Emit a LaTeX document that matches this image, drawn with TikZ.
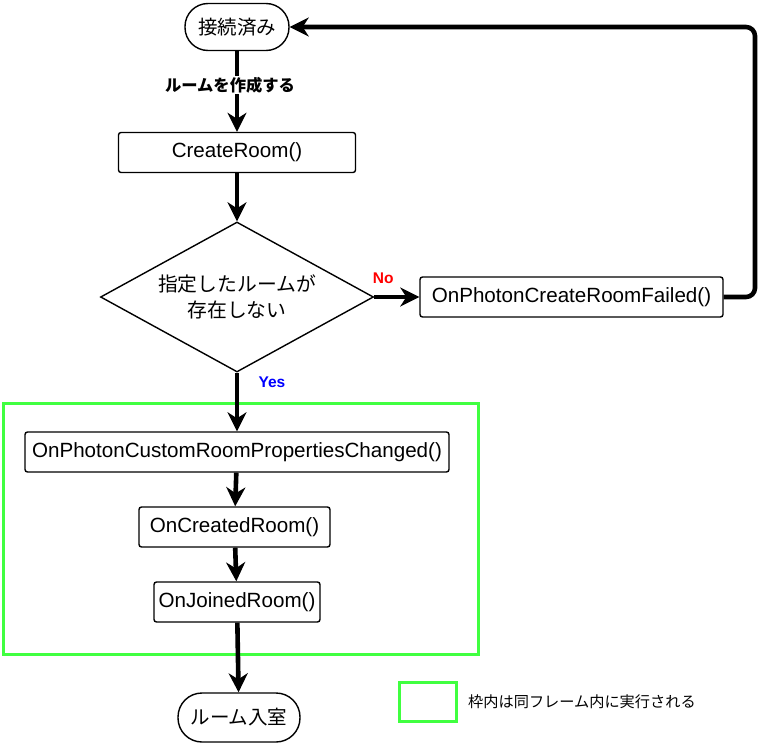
\documentclass[tikz,border=0pt]{standalone}
\usepackage{fontspec}
\setmainfont{Liberation Sans}
\newfontfamily\jp{Noto Sans CJK JP}
\usetikzlibrary{arrows.meta,shapes.geometric}
\definecolor{frameGreen}{RGB}{64,255,64}
\begin{document}
\begin{tikzpicture}[x=1pt,y=-1pt,
  proc/.style={draw=black, line width=1.4pt, rounded corners=2.5pt, fill=white,
    font=\fontsize{20.6}{22}\selectfont, inner sep=0pt},
  term/.style={draw=black, line width=1.4pt, fill=white, inner sep=0pt,
    font=\jp\fontsize{19.5}{22}\selectfont},
  decision/.style={diamond, aspect=1.82, draw=black, line width=1.4pt, fill=white,
    inner sep=0pt, align=center, font=\jp\fontsize{19.8}{26}\selectfont},
  flow/.style={line width=4.6pt, -{Stealth[length=19pt,width=19pt,inset=6pt]}},
  frame/.style={draw=frameGreen, line width=3pt, inner sep=0pt},
  lbl/.style={font=\bfseries\fontsize{15.5}{17}\selectfont, inner sep=1pt},
]
\useasboundingbox (0,0) rectangle (769,744);

% green frame (behind)
\node[frame, minimum width=475pt, minimum height=251pt] (grp) at (240.5,528.5) {};

% nodes
\node[term, rounded corners=23pt, minimum width=104pt, minimum height=47pt] (start) at (237,27) {接続済み};
\node[proc, minimum width=237pt, minimum height=40pt] (create) at (237,152.5) {CreateRoom()};
\node[decision, minimum width=273pt, minimum height=150pt] (dec) at (237,297) {指定したルームが\\存在しない};
\node[proc, minimum width=303pt, minimum height=40pt] (fail) at (571.5,297) {OnPhotonCreateRoomFailed()};
\node[proc, minimum width=424pt, minimum height=40pt] (cust) at (237,452) {OnPhotonCustomRoomPropertiesChanged()};
\node[proc, minimum width=191pt, minimum height=40pt] (created) at (234.5,527) {OnCreatedRoom()};
\node[proc, minimum width=166pt, minimum height=40pt] (joined) at (237,602) {OnJoinedRoom()};
\node[term, rounded corners=24pt, minimum width=122pt, minimum height=49pt] (enter) at (239,717.5) {ルーム入室};

% legend
\node[frame, minimum width=57pt, minimum height=39pt] (leg) at (427.5,701.5) {};
\node[anchor=west, inner sep=0pt, font=\jp\fontsize{15.2}{16}\selectfont] (legtxt) at (468,702) {枠内は同フレーム内に実行される};

% connectors
\coordinate (rt) at (755,0);
\draw[flow] (start) -- node[pos=0.42, xshift=-7pt, fill=white, inner sep=1pt, font=\jp\bfseries\fontsize{16.3}{17}\selectfont] (lblmake) {ルームを作成する} (create);
\draw[flow] (create) -- (dec);
\draw[flow] (dec) -- node[pos=0.2, yshift=19pt, lbl, text=red] (lblno) {No} (fail);
\draw[flow] (dec) -- node[pos=0.17, xshift=35pt, lbl, text=blue] (lblyes) {Yes} (cust);
\draw[flow, rounded corners=9pt] (fail.east) -- (fail.east -| rt) |- (start.east);
\draw[flow] (cust) -- (created);
\draw[flow] (created) -- (joined);
\draw[flow] (joined) -- (enter);
\end{tikzpicture}
\end{document}
